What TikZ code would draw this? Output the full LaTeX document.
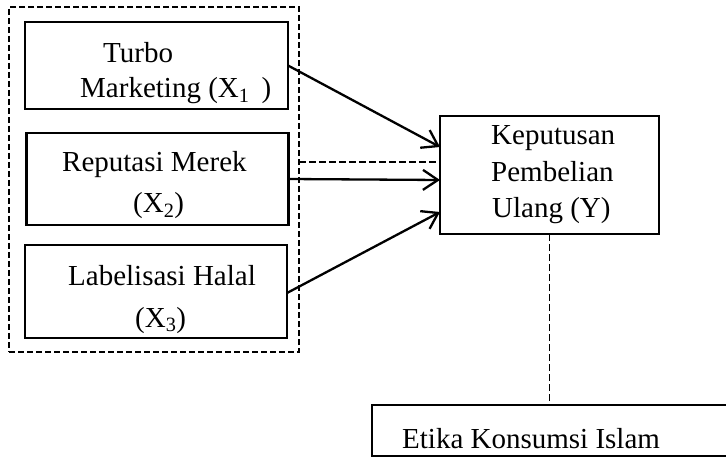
\documentclass[tikz,border=0pt]{standalone}
\usepackage{fontspec}
\setmainfont{Liberation Serif}
\usetikzlibrary{arrows.meta,calc}
\begin{document}
\begin{tikzpicture}[x=1pt,y=-1pt,
  box/.style={draw,line width=2.4pt,inner sep=0pt,outer sep=0pt},
  grp/.style={draw,line width=2.3pt,dash pattern=on 6pt off 3pt,inner sep=0pt,outer sep=0pt},
  lbl/.style={anchor=base west,inner sep=0pt,font=\fontsize{29}{35}\selectfont},
  arr/.style={line width=2.3pt,-{Straight Barb[length=15pt,width=20pt,line width=2.3pt]}},
  dsh/.style={line width=1.8pt,dash pattern=on 7pt off 3pt}]
\clip (0,0) rectangle (726,457);
\fill[white] (0,0) rectangle (726,457);
% group box
\node[grp,minimum width=290pt,minimum height=345pt] (g) at (154,179.5) {};
% left boxes
\node[box,minimum width=263pt,minimum height=87pt] (b1) at (156.5,65.5) {};
\node[box,minimum width=262pt,minimum height=92pt] (b2) at (157.5,179) {};
\node[box,minimum width=262pt,minimum height=93pt] (b3) at (156,291.5) {};
% right boxes
\node[box,minimum width=219pt,minimum height=118pt] (k) at (549.5,175) {};
\node[box,minimum width=400pt,minimum height=51pt] (e) at (572,430.5) {};
% texts
\node[lbl] (t1a) at (103,63) {Turbo};
\node[lbl] (t1b) at (80,98) {Marketing (X\textsubscript{1}\ \,)};
\node[lbl] (t2a) at (62,172) {Reputasi Merek};
\node[lbl] (t2b) at (133,213) {(X\textsubscript{2})};
\node[lbl] (t3a) at (68,286) {Labelisasi Halal};
\node[lbl] (t3b) at (135,327) {(X\textsubscript{3})};
\node[lbl] (ka) at (491,145) {Keputusan};
\node[lbl] (kb) at (491,182) {Pembelian};
\node[lbl] (kc) at (492,218) {Ulang (Y)};
\node[lbl] (ea) at (402,448) {Etika Konsumsi Islam};
% connectors
\draw[arr] (b1.east) -- ($(k.west)+(0,-28)$);
\draw[arr] (b2.east) -- ($(k.west)+(0,5)$);
\draw[arr] ($(b3.east)+(0,1.5)$) -- ($(k.west)+(0,37)$);
\draw[dsh] ($(g.east)+(0,-17.5)$) -- ($(k.west)+(0,-13)$);
\draw[dsh] (k.south) -- (k.south |- e.north);
\end{tikzpicture}
\end{document}
